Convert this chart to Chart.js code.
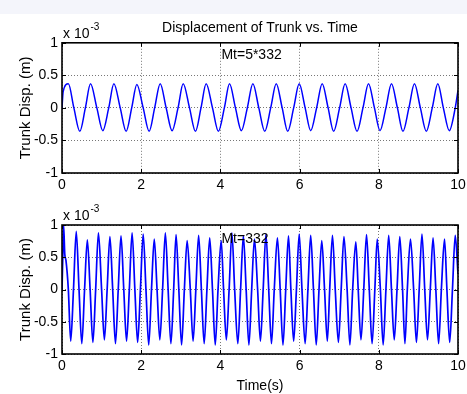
<!DOCTYPE html>
<html>
<head>
<meta charset="utf-8">
<script src="https://cdn.jsdelivr.net/npm/chart.js@4.4.1/dist/chart.umd.min.js"></script>
<style>
  body { margin: 0; background: #fff; width: 467px; height: 394px; position: relative; overflow: hidden; }
  #band { position: absolute; left: 0; top: 0; width: 467px; height: 14px; background: #f4f5fb; }
  canvas { position: absolute; left: 0; }
  #topChart { top: 0; }
  #bottomChart { top: 197px; }
</style>
</head>
<body>
<div id="band"></div>
<canvas id="topChart" width="467" height="197"></canvas>
<canvas id="bottomChart" width="467" height="197"></canvas>
<script>
// time axis ticks (s) and displacement ticks (x 10^-3 m)
const timeTicks = [0, 2, 4, 6, 8, 10];
const dispTicks = [-1, -0.5, 0, 0.5, 1];

// Mt = 5*332 : time (s) and displacement (x 10^-3 m)
const topTime = [
  0, 0.03, 0.16,
  0.30, 0.45, 0.59, 0.72,
  0.88, 1.03, 1.18, 1.31,
  1.47, 1.62, 1.76, 1.89,
  2.05, 2.20, 2.34, 2.48,
  2.63, 2.78, 2.93, 3.06,
  3.22, 3.37, 3.51, 3.64,
  3.80, 3.95, 4.10, 4.23,
  4.38, 4.53, 4.68, 4.82,
  4.97, 5.12, 5.27, 5.41,
  5.56, 5.70, 5.85, 5.99,
  6.14, 6.28, 6.43, 6.57,
  6.72, 6.86, 7.01, 7.15,
  7.30, 7.45, 7.60, 7.74,
  7.89, 8.03, 8.18, 8.32,
  8.47, 8.61, 8.76, 8.90,
  9.05, 9.20, 9.35, 9.49,
  9.63, 9.78, 9.93, 10
];
const topDisp = [
  0, 0.25, 0.37,
  0, -0.36, 0, 0.37,
  0, -0.35, 0, 0.37,
  0, -0.36, 0, 0.36,
  0, -0.36, 0, 0.37,
  0, -0.35, 0, 0.37,
  0, -0.36, 0, 0.37,
  0, -0.36, 0, 0.37,
  0, -0.35, 0, 0.37,
  0, -0.36, 0, 0.37,
  0, -0.36, 0, 0.37,
  0, -0.35, 0, 0.37,
  0, -0.36, 0, 0.37,
  0, -0.36, 0, 0.37,
  0, -0.35, 0, 0.37,
  0, -0.36, 0, 0.37,
  0, -0.36, 0, 0.37,
  0, -0.35, 0, 0.27
];

// Mt = 332 : lower plot
const botTime = [
  0, 0.02, 0.04, 0.07, 0.10, 0.16,
  0.22, 0.29, 0.36, 0.43,
  0.50, 0.57, 0.64, 0.71,
  0.78, 0.85, 0.92, 1.00,
  1.07, 1.14, 1.21, 1.28,
  1.35, 1.42, 1.49, 1.56,
  1.63, 1.70, 1.77, 1.84,
  1.91, 1.98, 2.05, 2.12,
  2.19, 2.26, 2.33, 2.40,
  2.47, 2.54, 2.61, 2.68,
  2.75, 2.82, 2.88, 2.95,
  3.02, 3.09, 3.16, 3.24,
  3.31, 3.38, 3.45, 3.52,
  3.59, 3.66, 3.73, 3.80,
  3.87, 3.94, 4.02, 4.08,
  4.15, 4.22, 4.29, 4.36,
  4.44, 4.51, 4.58, 4.65,
  4.72, 4.79, 4.86, 4.94,
  5.01, 5.08, 5.15, 5.22,
  5.29, 5.36, 5.44, 5.51,
  5.58, 5.65, 5.72, 5.78,
  5.85, 5.92, 5.99, 6.06,
  6.14, 6.21, 6.28, 6.35,
  6.42, 6.49, 6.56, 6.63,
  6.70, 6.76, 6.83, 6.90,
  6.98, 7.05, 7.12, 7.20,
  7.27, 7.34, 7.42, 7.48,
  7.55, 7.62, 7.69, 7.76,
  7.83, 7.90, 7.96, 8.04,
  8.11, 8.18, 8.25, 8.32,
  8.39, 8.46, 8.53, 8.60,
  8.66, 8.72, 8.80, 8.88,
  8.95, 9.02, 9.09, 9.16,
  9.23, 9.30, 9.37, 9.44,
  9.51, 9.58, 9.66, 9.72,
  9.79, 9.86, 9.93, 10
];
const botDisp = [
  0, 0.50, 1.00, 0.55, 0.45, 0,
  -0.80, 0, 0.90, 0,
  -0.84, 0, 0.77, 0,
  -0.82, 0, 0.88, 0,
  -0.78, 0, 0.82, 0,
  -0.84, 0, 0.83, 0,
  -0.80, 0, 0.88, 0,
  -0.82, 0, 0.86, 0,
  -0.86, 0, 0.78, 0,
  -0.78, 0, 0.88, 0,
  -0.84, 0, 0.85, 0,
  -0.86, 0, 0.76, 0,
  -0.80, 0, 0.84, 0,
  -0.84, 0, 0.80, 0,
  -0.86, 0, 0.76, 0,
  -0.78, 0, 0.88, 0,
  -0.84, 0, 0.83, 0,
  -0.86, 0, 0.78, 0,
  -0.80, 0, 0.86, 0,
  -0.84, 0, 0.80, 0,
  -0.86, 0, 0.83, 0,
  -0.80, 0, 0.86, 0,
  -0.84, 0, 0.84, 0,
  -0.86, 0, 0.76, 0,
  -0.80, 0, 0.84, 0,
  -0.82, 0, 0.82, 0,
  -0.86, 0, 0.74, 0,
  -0.78, 0, 0.85, 0,
  -0.84, 0, 0.78, 0,
  -0.86, 0, 0.84, 0,
  -0.78, 0, 0.82, 0,
  -0.84, 0, 0.78, 0,
  -0.82, 0, 0.86, 0,
  -0.78, 0, 0.80, 0,
  -0.84, 0, 0.78, 0,
  -0.82, 0, 0.84, 0.24
];

const FONT = '"Liberation Sans", Arial, sans-serif';

// matlab style box, inward ticks, exponent and note
const framePlugin = {
  id: 'frame',
  afterDraw(chart, args, opts) {
    const { ctx, chartArea: a, scales: { x, y } } = chart;
    ctx.save();
    ctx.strokeStyle = '#000';
    ctx.lineWidth = 1;
    ctx.beginPath();
    x.ticks.forEach(t => {
      const px = Math.round(x.getPixelForValue(t.value)) + 0.5;
      ctx.moveTo(px, a.bottom); ctx.lineTo(px, a.bottom - 4);
      ctx.moveTo(px, a.top); ctx.lineTo(px, a.top + 4);
    });
    y.ticks.forEach(t => {
      const py = Math.round(y.getPixelForValue(t.value)) + 0.5;
      ctx.moveTo(a.left, py); ctx.lineTo(a.left + 4, py);
      ctx.moveTo(a.right, py); ctx.lineTo(a.right - 4, py);
    });
    ctx.stroke();
    ctx.lineWidth = 1.6;
    ctx.strokeRect(a.left, a.top, a.right - a.left, a.bottom - a.top);

    ctx.fillStyle = '#000';
    ctx.textBaseline = 'alphabetic';
    ctx.textAlign = 'left';
    ctx.font = '14px ' + FONT;
    ctx.fillText('x 10', a.left + 1, a.top - 5);
    const w = ctx.measureText('x 10').width;
    ctx.font = '10px ' + FONT;
    ctx.fillText('-3', a.left + 2 + w, a.top - 13);

    ctx.font = '14px ' + FONT;
    ctx.textBaseline = 'middle';
    ctx.fillText(opts.note, x.getPixelForValue(opts.noteX) + 1, y.getPixelForValue(opts.noteY));
    ctx.restore();
  }
};

function makeChart(id, time, disp, cfg) {
  const points = time.map((t, i) => ({ x: t, y: disp[i] }));
  return new Chart(document.getElementById(id), {
    type: 'line',
    plugins: [framePlugin],
    data: {
      datasets: [{
        data: points,
        borderColor: '#0000ff',
        borderWidth: cfg.lineWidth,
        pointRadius: 0,
        cubicInterpolationMode: 'monotone',
        fill: false
      }]
    },
    options: {
      responsive: false,
      animation: false,
      devicePixelRatio: 1,
      layout: { padding: { top: cfg.padTop, right: 9, bottom: 0, left: 0 } },
      plugins: {
        legend: { display: false },
        tooltip: { enabled: false },
        title: {
          display: !!cfg.title,
          fullSize: false,
          text: cfg.title || '',
          color: '#000',
          font: { family: FONT, size: 14, weight: 'normal', lineHeight: 1.2 },
          padding: { top: 20, bottom: 6 }
        },
        frame: { note: cfg.note, noteX: cfg.noteX, noteY: cfg.noteY }
      },
      scales: {
        x: {
          type: 'linear',
          min: 0, max: 10,
          afterBuildTicks: s => { s.ticks = timeTicks.map(v => ({ value: v })); },
          ticks: { color: '#000', font: { family: FONT, size: 14 }, padding: 4, maxRotation: 0,
                   callback: v => String(v) },
          grid: { color: '#777', drawTicks: false, lineWidth: 1 },
          border: { display: false, dash: [1, 2] },
          title: {
            display: !!cfg.xTitle,
            text: cfg.xTitle || '',
            color: '#000',
            font: { family: FONT, size: 14 },
            padding: { top: 0, bottom: -1 }
          },
          afterFit: s => { s.height = cfg.xHeight; s.paddingLeft = 0; s.paddingRight = 0; }
        },
        y: {
          min: -1, max: 1,
          afterBuildTicks: s => { s.ticks = dispTicks.map(v => ({ value: v })); },
          ticks: { color: '#000', font: { family: FONT, size: 14 }, padding: 4,
                   callback: v => String(v) },
          grid: { color: '#777', drawTicks: false, lineWidth: 1 },
          border: { display: false, dash: [1, 2] },
          title: {
            display: true,
            text: 'Trunk Disp. (m)',
            color: '#000',
            font: { family: FONT, size: 15 },
            padding: { top: 17, bottom: 0 }
          },
          afterFit: s => { s.width = 62; s.paddingTop = 0; s.paddingBottom = 0; }
        }
      }
    }
  });
}

makeChart('topChart', topTime, topDisp, {
  title: 'Displacement of Trunk vs. Time',
  padTop: 0, xHeight: 24, lineWidth: 1.5,
  note: 'Mt=5*332', noteX: 4, noteY: 0.81
});
makeChart('bottomChart', botTime, botDisp, {
  padTop: 28, xHeight: 40, xTitle: 'Time(s)', lineWidth: 1.7,
  note: 'Mt=332', noteX: 4, noteY: 0.78
});
</script>
</body>
</html>
